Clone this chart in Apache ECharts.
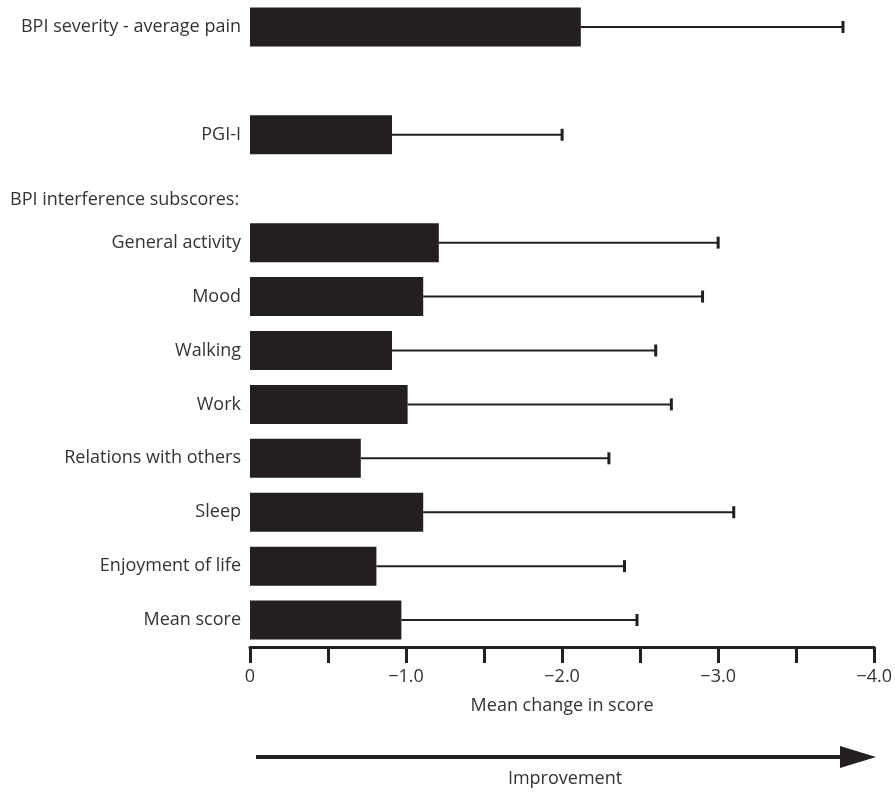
<!DOCTYPE html>
<html>
<head>
<meta charset="utf-8">
<script src="https://cdn.jsdelivr.net/npm/echarts@6/dist/echarts.min.js"></script>
<style>
  html, body { margin: 0; padding: 0; background: #fff; }
  #chart { width: 895px; height: 794px; }
</style>
</head>
<body>
<div id="chart"></div>
<script>
// rows top to bottom, blank rows keep the gaps
var categories = ['BPI severity - average pain', ' ', 'PGI-I', '  ',
	'General activity', 'Mood', 'Walking', 'Work',
	'Relations with others', 'Sleep', 'Enjoyment of life', 'Mean score'];
var meanChange = [-2.12, null, -0.91, null, -1.21, -1.11, -0.91, -1.01, -0.71, -1.11, -0.81, -0.97];
var errorEnd   = [-3.80, null, -2.00, null, -3.00, -2.90, -2.60, -2.70, -2.30, -3.10, -2.40, -2.48];
var headerText = 'BPI interference subscores:';

var ink = '#231f20';
var txt = '#333';
var font = '"Open Sans", "Noto Sans", sans-serif';
var fs = 18;

var errData = [];
for (var i = 0; i < categories.length; i++) {
	if (meanChange[i] !== null)
		errData.push([meanChange[i], errorEnd[i], i]);
}

var chart = echarts.init(document.getElementById('chart'));

chart.setOption({
	animation: false,
	textStyle: { fontFamily: font },
	grid: { left: 250, right: 17, top: 0, bottom: 147 },
	xAxis: {
		type: 'value',
		min: -4,
		max: 0,
		interval: 0.5,
		inverse: true,
		axisLine: { show: true, lineStyle: { color: ink, width: 3 } },
		axisTick: { show: true, length: 16, lineStyle: { color: ink, width: 3 } },
		splitLine: { show: false },
		axisLabel: {
			color: txt, fontSize: fs, margin: 21, fontFamily: font,
			formatter: function (v) {
				if (v === 0) return '0';
				if (Math.abs(v % 1) < 1e-9) return '\u2212' + Math.abs(v).toFixed(1);
				return '';
			}
		},
		name: 'Mean change in score',
		nameLocation: 'middle',
		nameGap: 50,
		nameTextStyle: { color: txt, fontSize: fs, fontFamily: font }
	},
	yAxis: {
		type: 'category',
		data: categories,
		inverse: true,
		axisLine: { show: false },
		axisTick: { show: false },
		axisLabel: { color: txt, fontSize: fs, margin: 9, fontFamily: font }
	},
	series: [
		{
			type: 'bar',
			data: meanChange,
			barWidth: 39,
			itemStyle: { color: ink },
			z: 3
		},
		{
			type: 'custom',
			data: errData,
			encode: { x: [0, 1], y: 2 },
			z: 2,
			renderItem: function (params, api) {
				var cat = api.value(2);
				var s = api.coord([api.value(0), cat]);
				var e = api.coord([api.value(1), cat]);
				var h = 12;
				return {
					type: 'group',
					children: [
						{ type: 'line', shape: { x1: s[0], y1: s[1], x2: e[0], y2: e[1] },
						  style: { stroke: ink, lineWidth: 2 } },
						{ type: 'line', shape: { x1: e[0], y1: e[1] - h / 2, x2: e[0], y2: e[1] + h / 2 },
						  style: { stroke: ink, lineWidth: 3 } }
					]
				};
			}
		}
	],
	graphic: [
		{ type: 'text', x: 10, y: 200,
		  style: { text: headerText, fill: txt, font: fs + 'px ' + font, textVerticalAlign: 'middle' } },
		{ type: 'line', shape: { x1: 256, y1: 757, x2: 845, y2: 757 },
		  style: { stroke: ink, lineWidth: 4 } },
		{ type: 'polygon', shape: { points: [[840, 746], [876, 757], [840, 768]] },
		  style: { fill: ink } },
		{ type: 'text', x: 565, y: 779,
		  style: { text: 'Improvement', fill: txt, font: fs + 'px ' + font, textAlign: 'center', textVerticalAlign: 'middle' } }
	]
});
</script>
</body>
</html>
